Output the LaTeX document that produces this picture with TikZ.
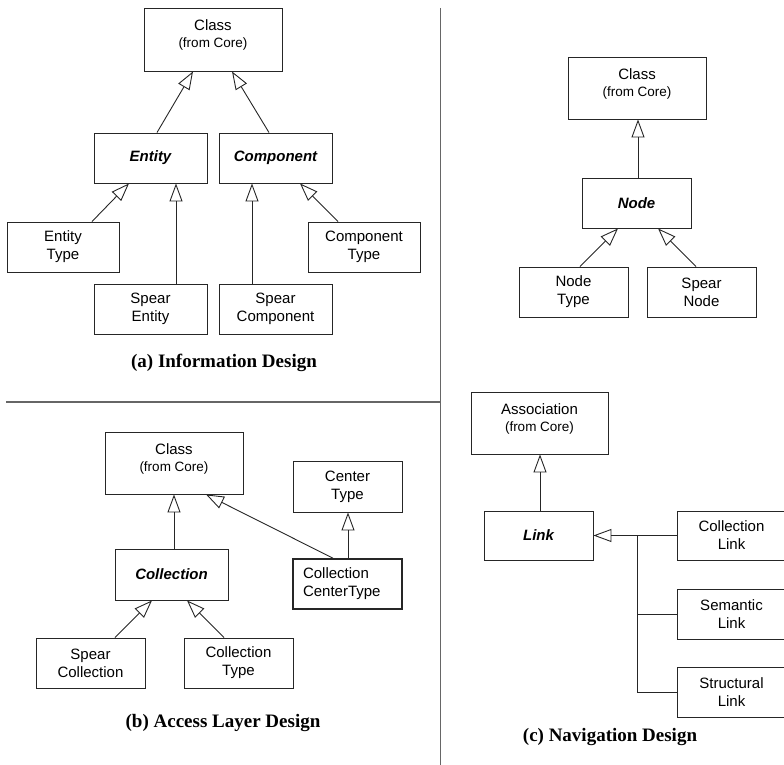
\documentclass[tikz,border=0pt]{standalone}
\usepackage{fontspec}
\setmainfont{Liberation Sans}
\newfontfamily\capfont{Liberation Serif}
\usetikzlibrary{arrows.meta}
\newcommand\fsn{\fontsize{15}{18}\selectfont}
\newcommand\fsm{\fontsize{13.5}{16}\selectfont}
\newcommand\fsc{\capfont\bfseries\fontsize{19}{22}\selectfont}
\tikzset{
  umlbox/.style={draw=black!85, line width=0.9pt, inner sep=0pt, align=center, font=\fsn},
  abs/.style={font=\fsn\bfseries\itshape},
  toptext/.style={anchor=north, inner sep=0pt, align=center, font=\fsn},
  gen/.style={-{Triangle[open,length=18pt,width=13pt]}, line width=0.9pt, draw=black!85},
  plain/.style={line width=0.9pt, draw=black!85},
  divider/.style={line width=1.2pt, draw=black!60},
  caption/.style={inner sep=0pt, font=\fsc}
}
\begin{document}
\begin{tikzpicture}[x=1pt,y=-1pt]
\useasboundingbox (0,0) rectangle (784,765);
\clip (0,0) rectangle (784,765);
% dividers
\draw[divider] (440.5,8) -- (440.5,766);
\draw[divider] (6,402) -- (440.5,402);

% ---------- (a) Information Design ----------
\node[umlbox, minimum width=138pt, minimum height=63pt] (ca) at (213,39.5) {};
\node[toptext] (cat) at ([yshift=-11.5pt]ca.north) {Class\\[-1pt]{\fsm (from Core)}};
\node[umlbox, abs, minimum width=113pt, minimum height=50pt] (ent) at (150.5,158) {Entity};
\node[umlbox, abs, minimum width=113pt, minimum height=50pt] (comp) at (275.5,158) {Component};
\node[umlbox, minimum width=112pt, minimum height=50pt] (entt) at (63,247) {Entity\\Type};
\node[umlbox, minimum width=112pt, minimum height=50pt] (compt) at (364,247) {Component\\Type};
\node[umlbox, minimum width=113pt, minimum height=50pt] (spe) at (150.5,309) {Spear\\Entity};
\node[umlbox, minimum width=113pt, minimum height=50pt] (spc) at (275.5,309) {Spear\\Component};
\draw[gen] ([xshift=6.5pt]ent.north) -- ([xshift=-20pt]ca.south);
\draw[gen] ([xshift=-6.5pt]comp.north) -- ([xshift=19pt]ca.south);
\draw[gen] ([xshift=29pt]entt.north) -- ([xshift=-21.5pt]ent.south);
\draw[gen] ([xshift=25.5pt]spe.north) -- ([xshift=25.5pt]ent.south);
\draw[gen] ([xshift=-23.5pt]spc.north) -- ([xshift=-23.5pt]comp.south);
\draw[gen] ([xshift=-26pt]compt.north) -- ([xshift=24.5pt]comp.south);
\node[caption] (capa) at (224,363) {(a) Information Design};

% ---------- Node part ----------
\node[umlbox, minimum width=138pt, minimum height=62pt] (cr) at (637,88) {};
\node[toptext] (crt) at ([yshift=-11.5pt]cr.north) {Class\\[-1pt]{\fsm (from Core)}};
\node[umlbox, abs, minimum width=109pt, minimum height=50pt] (nd) at (636.5,203) {Node};
\node[umlbox, minimum width=109pt, minimum height=50pt] (ndt) at (573.5,292) {Node\\Type};
\node[umlbox, minimum width=109pt, minimum height=50pt] (spn) at (701.5,292) {Spear\\Node};
\draw[gen] ([xshift=1.5pt]nd.north) -- ([xshift=1pt]cr.south);
\draw[gen] ([xshift=6.5pt]ndt.north) -- ([xshift=-18.5pt]nd.south);
\draw[gen] ([xshift=-5.5pt]spn.north) -- ([xshift=21.5pt]nd.south);

% ---------- (b) Access Layer Design ----------
\node[umlbox, minimum width=138pt, minimum height=62pt] (cb) at (174,463) {};
\node[toptext] (cbt) at ([yshift=-11.5pt]cb.north) {Class\\[-1pt]{\fsm (from Core)}};
\node[umlbox, minimum width=109pt, minimum height=51pt] (cent) at (347.5,486.5) {Center\\Type};
\node[umlbox, abs, minimum width=113pt, minimum height=51pt] (coll) at (171.5,574.5) {Collection};
\node[umlbox, line width=1.6pt, minimum width=109pt, minimum height=50pt, align=left, text width=89pt] (cct) at (347.5,584) {Collection\\CenterType};
\node[umlbox, minimum width=109pt, minimum height=50pt] (spcol) at (90.5,663) {Spear\\Collection};
\node[umlbox, minimum width=109pt, minimum height=50pt] (colt) at (238.5,663) {Collection\\Type};
\draw[gen] ([xshift=2.5pt]coll.north) -- (cb.south);
\draw[gen] ([xshift=-14.5pt]cct.north) -- ([xshift=32pt]cb.south);
\draw[gen] ([xshift=0.5pt]cct.north) -- ([xshift=0.5pt]cent.south);
\draw[gen] ([xshift=24.5pt]spcol.north) -- ([xshift=-19.5pt]coll.south);
\draw[gen] ([xshift=-14.5pt]colt.north) -- ([xshift=15.5pt]coll.south);
\node[caption] (capb) at (223,723) {(b) Access Layer Design};

% ---------- (c) Navigation Design ----------
\node[umlbox, minimum width=137pt, minimum height=62pt] (as) at (539.5,423) {};
\node[toptext] (ast) at ([yshift=-11.5pt]as.north) {Association\\[-1pt]{\fsm (from Core)}};
\node[umlbox, abs, minimum width=109pt, minimum height=49pt] (lk) at (538.5,535.5) {Link};
\node[umlbox, minimum width=109pt, minimum height=49pt] (cl) at (731.5,535.5) {Collection\\Link};
\node[umlbox, minimum width=109pt, minimum height=50pt] (sl) at (731.5,614) {Semantic\\Link};
\node[umlbox, minimum width=109pt, minimum height=50pt] (stl) at (731.5,692) {Structural\\Link};
\draw[gen] ([xshift=1.5pt]lk.north) -- ([xshift=0.5pt]as.south);
\draw[gen] (cl.west) -- (lk.east);
\coordinate (bus) at (637,535.5);
\draw[plain] (bus) |- (stl.west);
\draw[plain] (bus |- sl.west) -- (sl.west);
\node[caption] (capc) at (610,737) {(c) Navigation Design};
\end{tikzpicture}
\end{document}
